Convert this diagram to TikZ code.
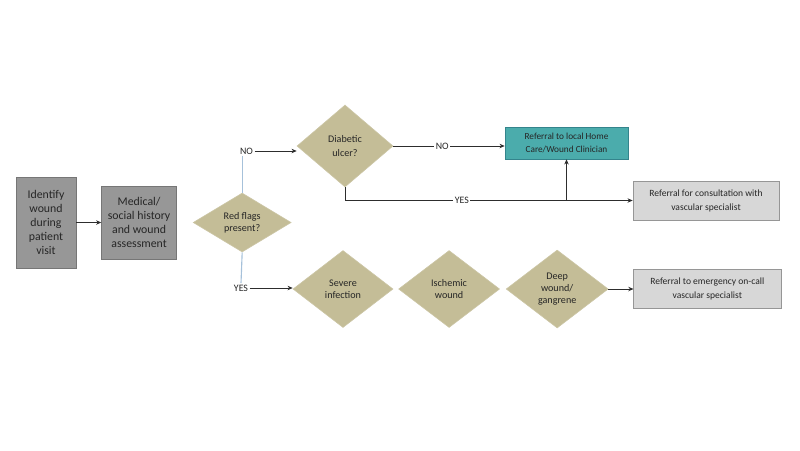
\documentclass[tikz,border=0pt]{standalone}
\usepackage{fontspec}
\setmainfont{Carlito}
\usepackage{xcolor}
\usepackage{tikz}
\usetikzlibrary{arrows.meta, positioning, shapes.geometric}
\definecolor{boxgray}{RGB}{151,151,151}
\definecolor{boxedge}{RGB}{118,118,118}
\definecolor{diafill}{RGB}{196,189,151}
\definecolor{diaedge}{RGB}{204,198,166}
\definecolor{refgray}{RGB}{215,215,215}
\definecolor{refedge}{RGB}{150,150,150}
\definecolor{careteal}{RGB}{75,172,172}
\definecolor{tealedge}{RGB}{52,132,140}
\definecolor{linedark}{RGB}{45,45,45}
\definecolor{lineblue}{RGB}{166,193,218}
\definecolor{textdark}{RGB}{38,38,38}

\begin{document}
\begin{tikzpicture}[x=0.025cm, y=-0.025cm, text=textdark,
    gb/.style={draw=boxedge, fill=boxgray, font=\fontsize{8.4}{10}\selectfont, align=center, inner sep=1pt},
    dia/.style={diamond, draw=diaedge, fill=diafill, font=\fontsize{7.2}{8.4}\selectfont, align=center, inner sep=0pt},
    ref/.style={draw=refedge, fill=refgray, font=\fontsize{6.8}{10}\selectfont, align=center, minimum width=3.65cm, minimum height=0.975cm},
    lbl/.style={font=\fontsize{7}{8}\selectfont, fill=white, inner sep=1pt},
    arr/.style={-{Stealth[length=1.3mm, width=1.1mm]}, draw=linedark, line width=0.6pt},
    lb/.style={draw=lineblue, line width=0.8pt}]
    \useasboundingbox (0,0) rectangle (800,450);
    % left boxes and first decision
    \node[gb, minimum width=1.5cm, minimum height=2.275cm] (id) at (46,222.5) {Identify\\wound\\during\\patient\\visit};
    \node[gb, minimum width=1.875cm, minimum height=1.825cm, right=0.625cm of id] (mh) {Medical/\\social history\\and wound\\assessment};
    \node[dia, minimum width=2.45cm, minimum height=1.475cm, right=0.4cm of mh] (rf) {Red flags\\present?};
    \draw[arr] (id) -- (mh);
    % NO branch
    \node[lbl] (no1) at (246.5,151) {NO};
    \node[dia, minimum width=2.4cm, minimum height=2.05cm] (du) at (345,146) {Diabetic\\[2pt]ulcer?};
    \node[ref, fill=careteal, draw=tealedge, font=\fontsize{6.6}{9}\selectfont, minimum width=3.075cm, minimum height=0.8cm] (hc) at (566.5,143) {Referral to local Home\\Care/Wound Clinician};
    \node[ref] (vs) at (706,200.5) {Referral for consultation with\\vascular specialist};
    \draw[lb] (rf.north) -- (rf.north |- no1.south);
    \draw[arr] (no1.east) -- (no1.east -| du.west);
    \draw[arr] (du.east) -- (du.east -| hc.west) node[lbl, pos=0.44] (no2) {NO};
    \draw[arr] (du.south) |- (vs.west) node[lbl, pos=0.703] (yes2) {YES};
    \coordinate (jn) at (hc.south |- vs.west);
    \draw[arr] (jn) -- (hc.south);
    % YES branch
    \node[lbl] (yes1) at (241,288) {YES};
    \node[dia, minimum width=2.5cm, minimum height=1.925cm] (si) at (343,289) {Severe\\infection};
    \node[dia, minimum width=2.525cm, minimum height=1.925cm, right=0.125cm of si] (iw) {Ischemic\\wound};
    \node[dia, minimum width=2.55cm, minimum height=1.95cm, right=0.15cm of iw] (dw) {Deep\\wound/\\gangrene};
    \node[ref, minimum width=3.675cm, right=0.625cm of dw] (em) {Referral to emergency on-call\\vascular specialist};
    \draw[lb] (rf.south) -- (yes1.north);
    \draw[arr] (yes1.east) -- (yes1.east -| si.west);
    \draw[arr] (dw) -- (em);
\end{tikzpicture}
\end{document}
